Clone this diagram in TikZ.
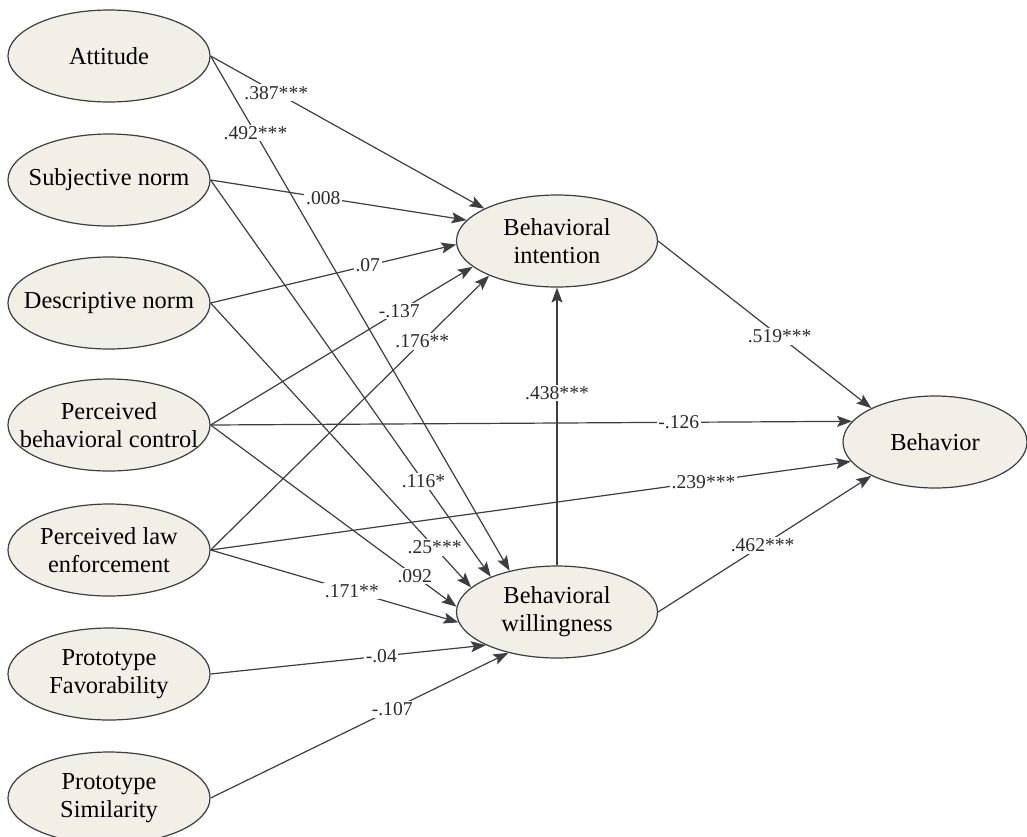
\documentclass[tikz,border=0pt]{standalone}
\usepackage{fontspec}
\setmainfont{Liberation Serif}
\usetikzlibrary{shapes.geometric, arrows.meta}

\definecolor{ovalfill}{RGB}{242,240,230}
\definecolor{inkgray}{RGB}{62,62,66}

\begin{document}
\begin{tikzpicture}[
        x = 0.5pt,
        y = -0.5pt,
        latent/.style = {
                ellipse,
                draw = inkgray,
                line width = 0.6pt,
                fill = ovalfill,
                minimum width = 101pt,
                minimum height = 46pt,
                inner xsep = -20pt,
                inner ysep = 0pt,
                align = center,
                font = \fontsize{12.2}{14}\selectfont
            },
        link/.style = {
                draw = inkgray,
                line width = 0.6pt,
                -{Stealth[length = 7.5pt, width = 5.5pt, inset = 1.5pt]}
            },
        coef/.style = {
                fill = white,
                inner sep = 0.8pt,
                text = inkgray!70!black,
                font = \fontsize{9.8}{11}\selectfont
            }
    ]

    \useasboundingbox (0,0) rectangle (1027,836);

    % predictors
    \node[latent] (att) at (109,56)  {Attitude};
    \node[latent] (sn)  at (109,180) {Subjective norm};
    \node[latent] (dn)  at (109,303) {Descriptive norm};
    \node[latent] (pbc) at (109,425) {Perceived\\behavioral control};
    \node[latent] (ple) at (109,550) {Perceived law\\enforcement};
    \node[latent] (pf)  at (109,674) {Prototype\\Favorability};
    \node[latent] (ps)  at (109,798) {Prototype\\Similarity};

    % mediators and outcome
    \node[latent, minimum width = 100.5pt] (bi) at (557,241) {Behavioral\\intention};
    \node[latent, minimum width = 100.5pt] (bw) at (557,612) {Behavioral\\willingness};
    \node[latent, minimum width = 92pt] (beh) at (935,442) {Behavior};

    % paths to intention
    \draw[link] (att.east) -- node[coef, pos = 0.24] {.387***} (bi.156);
    \draw[link] (sn.east)  -- node[coef, pos = 0.44] {.008} (bi.167);
    \draw[link] (dn.east)  -- node[coef, pos = 0.64] {.07} (bi.182);
    \draw[link] (pbc.east) -- node[coef, pos = 0.72] {-.137} (bi.197);
    \draw[link] (ple.east) -- node[coef, pos = 0.76] {.176**} (bi.207);

    % paths to willingness
    \draw[link] (att.east) -- node[coef, pos = 0.15] {.492***} (bw.139);
    \draw[link] (sn.east)  -- node[coef, pos = 0.76] {.116*} (bw.152);
    \draw[link] (dn.east)  -- node[coef, pos = 0.86] {.25***} (bw.164);
    \draw[link] (pbc.east) -- node[coef, pos = 0.83] {.092} (bw.177);
    \draw[link] (ple.east) -- node[coef, pos = 0.57] {.171**} (bw.186);
    \draw[link] (pf.east)  -- node[coef, pos = 0.62] {-.04} (bw.205);
    \draw[link] (ps.east)  -- node[coef, pos = 0.61] {-.107} (bw.220);

    % willingness to intention
    \draw[link] (bw.north) -- node[coef, pos = 0.62] {.438***} (bi.south);

    % paths to behavior
    \draw[link] (bi.east)  -- node[coef, pos = 0.57] {.519***} (beh.152);
    \draw[link] (pbc.east) -- node[coef, pos = 0.73] {-.126} (beh.166);
    \draw[link] (ple.east) -- node[coef, pos = 0.77] {.239***} (beh.193);
    \draw[link] (bw.east)  -- node[coef, pos = 0.49] {.462***} (beh.208);

\end{tikzpicture}
\end{document}
